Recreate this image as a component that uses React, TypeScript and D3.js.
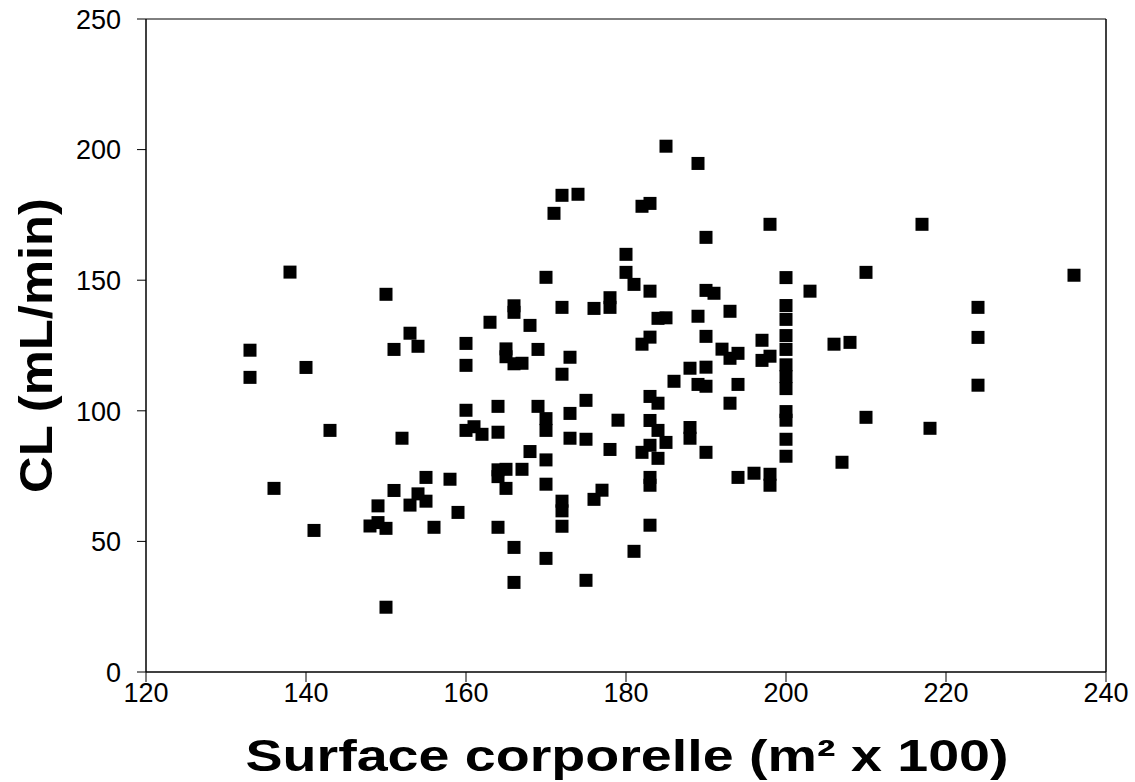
import React from "react";
import * as d3 from "d3";

// Surface corporelle (m² x 100)
const bsa: number[] = [
  138, 150, 153, 133, 151, 154, 140, 133, 143, 152, 155, 136, 151, 154, 155, 149, 153, 148, 149, 150,
  156, 141, 150, 158, 159, 160, 160, 160, 160, 161, 162, 163, 164, 164, 164, 164, 164, 165, 165, 165,
  165, 166, 166, 166, 166, 166, 167, 167, 168, 168, 169, 169, 170, 170, 170, 170, 170, 170, 171, 172,
  172, 172, 172, 172, 172, 173, 173, 173, 174, 175, 175, 175, 176, 176, 177, 178, 178, 178, 179, 180,
  180, 181, 181, 182, 182, 182, 183, 183, 183, 183, 183, 183, 183, 183, 183, 184, 184, 184, 184, 185,
  185, 185, 186, 188, 188, 188, 189, 189, 189, 190, 190, 190, 190, 190, 190, 191, 192, 193, 193, 193,
  194, 194, 194, 196, 197, 197, 198, 198, 198, 198, 200, 200, 200, 200, 200, 200, 200, 200, 200, 200,
  200, 200, 203, 206, 208, 207, 210, 210, 217, 218, 224, 224, 224, 236,
];

// CL (mL/min)
const clearance: number[] = [
  153.1, 144.6, 129.7, 123.2, 123.5, 124.7, 116.6, 112.8, 92.5, 89.5, 74.5, 70.3, 69.5, 68.2, 65.4, 63.6, 63.9, 55.9, 57.2, 55.0,
  55.4, 54.2, 24.8, 73.8, 61.1, 125.8, 117.4, 100.2, 92.5, 93.9, 91.0, 133.9, 101.7, 91.8, 77.4, 74.8, 55.4, 123.7, 120.7, 77.6,
  70.3, 140.2, 137.7, 118.0, 47.7, 34.3, 118.2, 77.6, 132.7, 84.4, 123.5, 101.7, 151.1, 97.0, 92.5, 81.2, 71.9, 43.5, 175.6, 182.5,
  139.6, 114.0, 65.4, 61.7, 55.8, 120.5, 99.0, 89.5, 182.9, 104.0, 89.1, 35.1, 139.2, 66.1, 69.6, 143.3, 139.6, 85.2, 96.4, 159.9,
  153.0, 148.4, 46.2, 178.3, 125.5, 84.1, 179.4, 145.8, 128.2, 105.5, 96.3, 86.8, 74.5, 71.5, 56.2, 135.4, 102.9, 92.5, 81.8, 201.3,
  135.6, 87.9, 111.3, 116.3, 93.6, 89.5, 194.7, 136.2, 110.1, 166.4, 146.1, 128.5, 116.7, 109.4, 84.1, 145.0, 123.6, 138.1, 120.1, 102.9,
  122.0, 110.1, 74.5, 76.1, 127.0, 119.3, 171.4, 120.9, 75.7, 71.5, 151.0, 140.3, 135.0, 128.8, 123.5, 117.6, 113.1, 108.5, 99.7, 96.4,
  89.1, 82.6, 145.8, 125.5, 126.2, 80.3, 153.0, 97.5, 171.4, 93.3, 139.6, 128.1, 109.8, 151.9,
];

const xTicks: number[] = [120, 140, 160, 180, 200, 220, 240];
const yTicks: number[] = [0, 50, 100, 150, 200, 250];

const xTitle = "Surface corporelle (m² x 100)";
const yTitle = "CL (mL/min)";

export default function App() {
  const W = 1135;
  const H = 782;
  const left = 146;
  const right = 1106;
  const top = 19;
  const bottom = 672;

  const x = d3.scaleLinear().domain([120, 240]).range([left, right]);
  const y = d3.scaleLinear().domain([0, 250]).range([bottom, top]);

  const points = bsa.map((b, i) => ({ b, c: clearance[i] }));
  const sq = 13;
  const font = "'Liberation Sans', Arial, sans-serif";

  return (
    <svg
      width={W}
      height={H}
      style={{ position: "absolute", left: 0, top: 0, background: "#fff" }}
      fontFamily={font}
    >
      <rect x={0} y={0} width={W} height={H} fill="#fff" />
      {/* frame */}
      <line x1={left} x2={right} y1={top} y2={top} stroke="#000" strokeWidth={1} />
      <line x1={right} x2={right} y1={top} y2={bottom} stroke="#000" strokeWidth={1.5} />
      {/* axes */}
      <line x1={left} x2={left} y1={top} y2={bottom} stroke="#000" strokeWidth={1.5} />
      <line x1={left} x2={right} y1={bottom} y2={bottom} stroke="#000" strokeWidth={1.5} />
      {yTicks.map((t) => (
        <g key={"y" + t}>
          <line x1={left - 9} x2={left} y1={y(t)} y2={y(t)} stroke="#000" strokeWidth={1} />
          <text x={121} y={y(t)} dy="0.36em" textAnchor="end" fontSize={27} fill="#000">
            {t}
          </text>
        </g>
      ))}
      {xTicks.map((t) => (
        <g key={"x" + t}>
          <line x1={x(t)} x2={x(t)} y1={bottom} y2={bottom + 10} stroke="#000" strokeWidth={1} />
          <text x={x(t)} y={702} textAnchor="middle" fontSize={27} fill="#000">
            {t}
          </text>
        </g>
      ))}
      {points.map((p, i) => (
        <rect
          key={i}
          x={x(p.b) - sq / 2}
          y={y(p.c) - sq / 2}
          width={sq}
          height={sq}
          fill="#000"
        />
      ))}
      <text
        x={(left + right) / 2 + 1}
        y={771}
        textAnchor="middle"
        fontSize={45}
        fontWeight="bold"
        fill="#000"
        textLength={763}
        lengthAdjust="spacingAndGlyphs"
      >
        {xTitle}
      </text>
      <text
        transform={`translate(52, ${(top + bottom) / 2}) rotate(-90)`}
        textAnchor="middle"
        fontSize={46}
        fontWeight="bold"
        fill="#000"
        textLength={295}
        lengthAdjust="spacingAndGlyphs"
      >
        {yTitle}
      </text>
    </svg>
  );
}
